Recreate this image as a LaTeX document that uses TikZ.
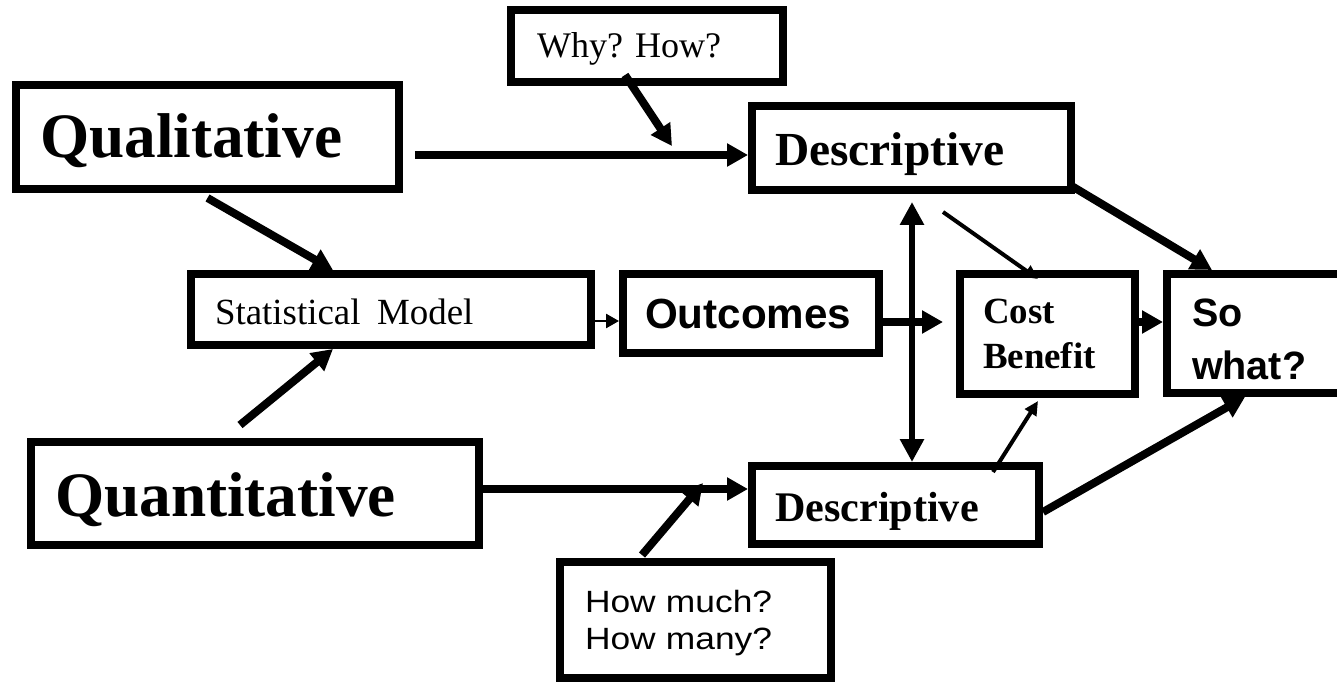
\documentclass[tikz,border=0pt]{standalone}
\usepackage{fontspec}
\setmainfont{Liberation Serif}
\newfontfamily\arialfont{Liberation Sans}
\newfontfamily\arialwide[FakeStretch=1.15]{Liberation Sans}
\usepackage{tikz}
\usetikzlibrary{positioning, arrows.meta, calc}
\frenchspacing

\begin{document}
\begin{tikzpicture}[x=0.02cm, y=-0.02cm,
  box/.style n args={3}{draw, line width=0.16cm, inner ysep=0pt, align=left,
    text width=#1, inner xsep=#2, minimum height=#3, text depth=0pt},
  bigarrow/.style={line width=0.16cm, -{Triangle[length=0.42cm, width=0.44cm]}},
  bothways/.style={line width=0.13cm, {Triangle[length=0.46cm, width=0.46cm]}-{Triangle[length=0.46cm, width=0.46cm]}},
  thinarrow/.style={line width=0.08cm, -{Triangle[length=0.28cm, width=0.26cm]}},
  tinyarrow/.style={line width=0.05cm, -{Triangle[length=0.26cm, width=0.28cm]}}]
\useasboundingbox (0,0) rectangle (1337,682);
\clip (0,0) rectangle (1337,682);

% Sources
\node[box={6.70cm}{0.48cm}{2.08cm}, text height=23.8pt,
  font=\fontsize{36}{43}\selectfont\bfseries] (qual) at (207.5,137) {Qualitative};
\node[box={8.00cm}{0.48cm}{2.06cm}, text height=26.6pt,
  font=\fontsize{36}{43}\selectfont\bfseries] (quant) at (255,493.5) {Quantitative};

% Question boxes
\node[box={4.40cm}{0.52cm}{1.44cm}, text height=13.6pt,
  font=\fontsize{20.5}{24}\selectfont] (why) at (647,46) {Why? How?};
\node[box={4.42cm}{0.50cm}{2.32cm}, text height=12.5pt, text depth=21.5pt,
  font=\arialwide\fontsize{17.5}{21.5}\selectfont] (howm) at (695.5,620) {How much?\\How many?};

% Middle row
\node[box={7.04cm}{0.48cm}{1.42cm}, text height=16.7pt,
  font=\fontsize{21}{25}\selectfont] (stat) at (391,309.5) {Statistical\hspace{0.45em}Model};
\node[box={4.24cm}{0.44cm}{1.58cm}, text height=17.2pt,
  font=\arialfont\fontsize{24}{28}\selectfont\bfseries] (outc) at (751,313.5) {Outcomes};
\node[box={2.58cm}{0.46cm}{2.40cm}, text height=13.9pt, text depth=25.5pt,
  font=\fontsize{21}{25.5}\selectfont\bfseries] (cost) at (1047.5,334) {Cost\\Benefit};
\node[box={2.48cm}{0.50cm}{2.38cm}, text height=22.3pt, text depth=30pt,
  font=\arialfont\fontsize{22.5}{30}\selectfont\bfseries] (sowhat) at (1254,333.5) {So\\what?};

% Descriptive boxes
\node[box={5.46cm}{0.46cm}{1.68cm}, text height=20.2pt,
  font=\fontsize{27}{32}\selectfont\bfseries] (descT) at (911.5,148) {Descriptive};
\node[box={4.82cm}{0.46cm}{1.56cm}, text height=19.3pt,
  font=\fontsize{24}{28}\selectfont\bfseries] (descB) at (895.5,505) {Descriptive};

% Points on the connectors
\coordinate (qa) at ($(qual.east)+(12,18)$);
\coordinate (qd) at (672,146);
\coordinate (na) at ($(quant.east)+(0,-4.5)$);
\coordinate (nd) at (703,483);
\coordinate (sa) at ($(stat.east)+(0,11.5)$);
\coordinate (mid) at ($(outc.east)+(0,8.5)$);

% Qualitative branch
\draw[bigarrow] (qa) -- (qa -| descT.west);
\draw[bigarrow] ($(why.south)+(-22,-11)$) -- (qd);
\draw[bigarrow] ($(qual.south)+(0,5)$) -- ($(stat.north)+(-58,0)$);

% Quantitative branch
\draw[bigarrow] (na) -- (na -| descB.west);
\draw[bigarrow] ($(howm.north)+(-53.5,-3)$) -- (nd);
\draw[bigarrow] ($(quant.north)+(-15,-13)$) -- ($(stat.south)+(-58,0)$);

% Middle row
\draw[tinyarrow] (sa) -- (sa -| outc.west);
\draw[bigarrow] (mid) -- ($(mid -| cost.west)+(-13,0)$);
\draw[bigarrow] (mid -| cost.east) -- (mid -| sowhat.west);
\draw[bothways] ($(descT.south)+(0.5,8)$) -- ($(descT.south |- descB.north)+(0.5,0)$);

% Into Cost Benefit and So what?
\draw[thinarrow] ($(descT.south)+(31.5,18)$) -- ($(cost.north)+(-9.5,9)$);
\draw[thinarrow] ($(descB.north)+(97.5,10)$) -- ($(cost.south)+(-9.5,3)$);
\draw[bigarrow] ($(descT.south east)+(-5,-9)$) -- ($(sowhat.north west)+(49,0)$);
\draw[bigarrow] ($(descB.east)+(0,7)$) -- ($(sowhat.south west)+(82,0)$);
\end{tikzpicture}
\end{document}
